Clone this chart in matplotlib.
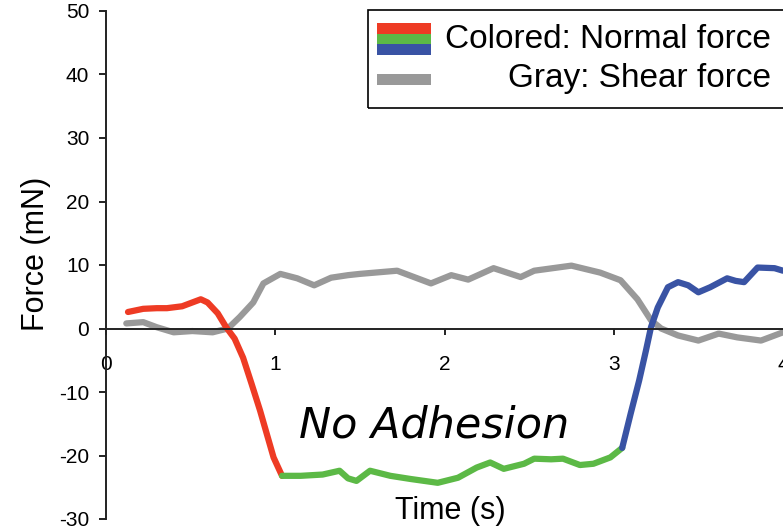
import matplotlib
matplotlib.use("Agg")
import matplotlib.pyplot as plt
from matplotlib.patches import Rectangle

plt.rcParams['font.family'] = ['Liberation Sans', 'DejaVu Sans']
plt.rcParams['axes.unicode_minus'] = False

# Normal force, split into loading (red), contact (green) and unloading (blue)
t_red = [0.13, 0.22, 0.30, 0.36, 0.45, 0.52, 0.56, 0.60, 0.66, 0.71, 0.76, 0.81, 0.86, 0.91, 0.95, 0.99, 1.04]
f_red = [2.6, 3.1, 3.2, 3.2, 3.5, 4.2, 4.6, 4.1, 2.4, 0.2, -1.6, -4.6, -8.7, -12.9, -16.6, -20.3, -23.2]

t_green = [1.04, 1.15, 1.28, 1.38, 1.43, 1.48, 1.56, 1.68, 1.80, 1.96, 2.08, 2.19, 2.27, 2.35,
           2.47, 2.53, 2.63, 2.70, 2.80, 2.88, 2.98, 3.05]
f_green = [-23.2, -23.2, -23.0, -22.4, -23.6, -24.0, -22.4, -23.2, -23.7, -24.3, -23.5, -21.9, -21.1, -22.1,
           -21.3, -20.5, -20.6, -20.5, -21.5, -21.3, -20.3, -18.8]

t_blue = [3.05, 3.10, 3.15, 3.19, 3.22, 3.26, 3.32, 3.38, 3.44, 3.50, 3.57, 3.67, 3.72, 3.77, 3.85, 3.95, 4.0]
f_blue = [-18.8, -13.4, -8.2, -3.5, 0.2, 3.3, 6.5, 7.3, 6.8, 5.7, 6.5, 7.9, 7.5, 7.3, 9.6, 9.5, 9.1]

# Shear force
t_gray = [0.12, 0.22, 0.30, 0.40, 0.51, 0.63, 0.72, 0.79, 0.87, 0.93, 1.03, 1.13, 1.23, 1.33, 1.43, 1.50,
          1.72, 1.92, 2.04, 2.14, 2.29, 2.45, 2.53, 2.75, 2.92, 3.04, 3.14, 3.22, 3.28, 3.38, 3.50, 3.62,
          3.73, 3.87, 4.0]
f_gray = [0.8, 1.0, 0.2, -0.6, -0.4, -0.6, 0.0, 1.8, 4.1, 7.1, 8.6, 7.9, 6.8, 8.0, 8.4, 8.6,
          9.1, 7.1, 8.4, 7.7, 9.5, 8.1, 9.1, 9.9, 8.8, 7.6, 4.6, 1.3, 0.0, -1.1, -1.9, -0.8,
          -1.4, -1.9, -0.6]

x_ticks = [0, 1, 2, 3, 4]
y_ticks = [-30, -20, -10, 0, 10, 20, 30, 40, 50]

RED, GREEN, BLUE, GRAY = '#EE3B24', '#5CB946', '#3953A4', '#999999'

W, H = 783, 528
fig = plt.figure(figsize=(W / 100, H / 100), dpi=100)
ax = fig.add_axes([106 / W, 1 - 519 / H, 677 / W, 508 / H])


def px(x, y):
    # pixel position -> figure fraction
    return x / W, 1 - y / H


lw = 4.5
ax.plot(t_gray, f_gray, color=GRAY, lw=lw, solid_capstyle='round')
ax.plot(t_red, f_red, color=RED, lw=lw, solid_capstyle='round')
ax.plot(t_green, f_green, color=GREEN, lw=lw, solid_capstyle='round')
ax.plot(t_blue, f_blue, color=BLUE, lw=lw, solid_capstyle='round')

ax.set_xlim(0, 4)
ax.set_ylim(-30, 50)
ax.set_xticks(x_ticks)
ax.set_yticks(y_ticks)

for s in ['top', 'right']:
    ax.spines[s].set_visible(False)
ax.spines['bottom'].set_position(('data', 0))
for s in ['left', 'bottom']:
    ax.spines[s].set_linewidth(1.4)
    ax.spines[s].set_color('#222222')

ax.tick_params(axis='y', direction='out', length=5, width=1.4, pad=7, labelsize=15, color='#222222')
ax.tick_params(axis='x', direction='out', length=4, width=1.4, pad=15, labelsize=15, color='#222222')

ax.set_ylabel('Force (mN)', fontsize=22)
ax.yaxis.label.set_va('center')
ax.yaxis.set_label_coords(-0.1034, 0.522)
ax.set_xlabel('Time (s)', fontsize=22)
ax.xaxis.label.set_va('center')
ax.xaxis.set_label_coords(0.508, 0.0157)

ax.text(1.94, -17.2, 'No Adhesion', family='DejaVu Sans', style='italic', fontsize=31,
        ha='center', va='baseline')

# legend drawn by hand (right-aligned labels, tri-colour key)
ft = fig.transFigure
x0, y0 = px(368, 108)
x1, y1 = px(800, 10)
fig.patches.append(Rectangle((x0, y0), x1 - x0, y1 - y0, transform=ft, fill=False,
                             edgecolor='black', lw=1.2))
kx0, _ = px(377, 0)
kx1, _ = px(431, 0)
for i, c in enumerate([RED, GREEN, BLUE]):
    _, ya = px(0, 23 + i * 10.7 + 10.7)
    _, yb = px(0, 23 + i * 10.7)
    fig.patches.append(Rectangle((kx0, ya), kx1 - kx0, yb - ya, transform=ft,
                                 facecolor=c, edgecolor='none'))
_, ga = px(0, 85)
_, gb = px(0, 74)
fig.patches.append(Rectangle((kx0, ga), kx1 - kx0, gb - ga, transform=ft,
                             facecolor=GRAY, edgecolor='none'))
fig.text(*px(771, 39), 'Colored: Normal force', fontsize=24, ha='right', va='center')
fig.text(*px(771, 79), 'Gray: Shear force', fontsize=24, ha='right', va='center')

fig.savefig('out.png', dpi=100)
